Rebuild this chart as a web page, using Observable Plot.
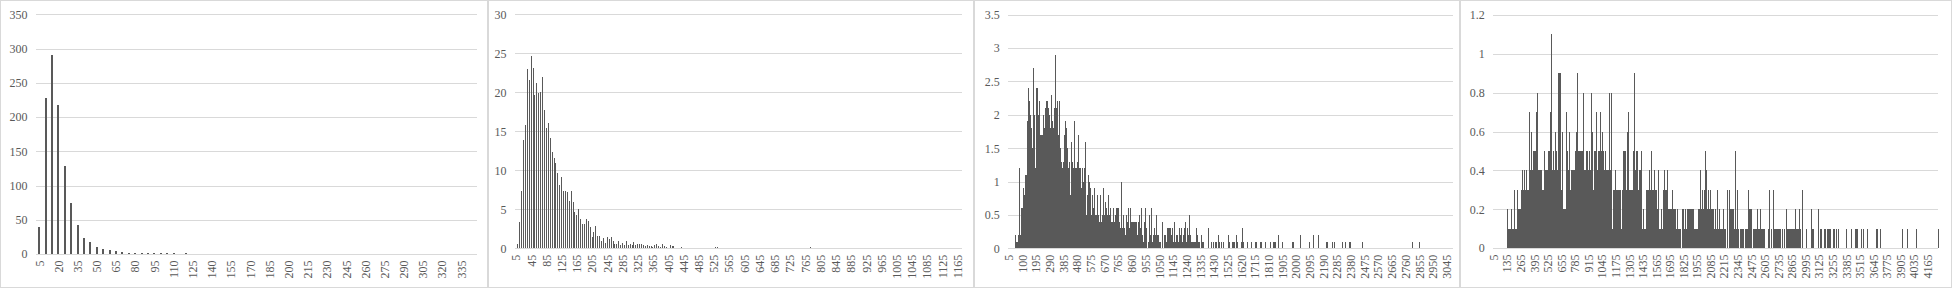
<!DOCTYPE html>
<html>
<head>
<meta charset="utf-8">
<script src="https://cdn.jsdelivr.net/npm/d3@7"></script>
<script src="https://cdn.jsdelivr.net/npm/@observablehq/plot@0.6"></script>
<style>
html,body{margin:0;padding:0;background:#fff;}
#wrap{position:relative;width:1952px;height:288px;overflow:hidden;background:#fff;}
.frame{position:absolute;top:0;height:288px;box-sizing:border-box;border:1px solid #d9d9d9;}
.chart{position:absolute;top:0;}
.chart svg{display:block;overflow:visible;}
</style>
</head>
<body>
<div id="wrap"></div>
<script>
// ---------- Data (bin categories start at 5 and step by 5) ----------
const values1 = [
  40,228,291,218,128,74,43,24,17,10,
  7,6,4,3,2,1,1,1,1,1,
  1,1,0,1,0,0,0,0,0,0,
  0,0,0,0,0,0,0,0,0,0,
  0,0,0,0,0,0,0,0,0,0,
  0,0,0,0,0,0,0,0,0,0,
  0,0,0,0,0,0,0,0,0
];
const values2 = [
  0,.5,3.4,7.3,13.9,15.8,23,21.6,24.7,23.1,
  19.7,21.2,19.9,20.1,21.9,17.7,15.4,16.1,14.2,12.3,
  11.6,11,9.7,8.1,9.1,7.3,7.3,7.2,6.1,7.4,
  6,4.6,4.3,5,3.7,3.1,3.1,3.7,3.5,2.7,
  1.5,2.1,2.9,1.6,1.6,1,1.3,.7,1.5,1.2,
  1.4,.9,.6,.5,1,.4,.7,.4,.9,.4,
  .6,.4,.8,.4,.5,.6,.6,.4,.3,.4,
  .3,.3,.2,.4,.6,.3,.2,.6,.3,.2,
  .1,.4,.3,.3,.1,.1,.1,.2,.1,.1,
  .1,.1,0,.1,.1,.1,.1,.1,0,0,
  0,.1,.1,.1,0,.15,.15,.1,0,0,
  .1,.1,0,.1,0,0,0,.1,0,.1,
  0,0,.1,.1,0,.1,0,.1,0,0,
  0,0,.1,0,0,0,.1,0,0,0,
  0,0,0,0,0,0,0,0,0,0,
  0,0,0,0,0,.15,0,0,0,0,
  0,.1,0,0,0,0,0,0,0,0,
  0,0,0,0,0,0,0,0,0,0,
  0,0,0,0,0,0,.1,0,0,0,
  0,0,0,0,0,0,0,0,0,0,
  0,0,0,0,0,0,0,0,0,0,
  0,0,0,0,0,0,0,0,0,0,
  0,0,0,0,0,0,0,0,0,0,
  0,0,0,0,0
];
const values3 = [
  0,0,0,0,0,0,0,0,0,0,
  .2,.1,.1,.2,.2,1.2,.2,.2,.6,.6,
  .9,.8,.8,1.1,1.1,1.1,1.9,2.4,1.5,2.2,
  2,1.9,1.8,1.5,2.7,2.5,2,1.2,2,2.4,
  2.4,2,1.7,2.2,1.7,1.3,1.7,1.7,1.9,2,
  1.8,2.1,2.2,1.7,2.2,2.1,1.4,2,1.8,1.7,
  2.3,1.9,1.8,2.1,1.7,2.9,2.1,2,2.2,1.7,
  1.9,2.2,1.5,1.3,1.3,1.2,1.3,1.7,1.2,1.9,
  1.8,1.5,1.3,1.2,1.3,1.2,.8,1.6,1,1.3,
  1.2,.7,1.9,1.2,1.2,.8,1.3,1.7,.6,1.2,
  1.2,.9,.6,1.2,1,1.2,1.6,.8,.5,.5,
  .8,1.1,1,.5,.9,.5,.8,.7,.6,.9,
  .4,.5,.5,.8,.5,.5,.4,.6,.8,.4,
  .5,.9,.6,.5,.4,.7,.6,.5,.8,.4,
  .5,.6,.5,.4,.4,.6,.4,.4,.5,.4,
  .6,.6,.4,.6,.4,.3,1,.4,.3,.5,
  .3,.3,.2,.5,.2,.4,.3,.6,.3,.6,
  .4,.2,.4,0,.4,.4,.4,.4,.2,.2,
  .4,.1,.5,.3,.2,.6,.2,.1,.4,.2,
  .6,.2,.3,0,.1,.2,.5,.2,.1,.6,
  .1,.2,.3,.1,.2,.5,.1,.2,.2,.1,
  .1,.1,0,0,.4,0,.2,.2,.2,.1,
  .3,.3,.3,.1,.3,.3,.2,.2,.3,.1,
  .4,.1,.1,.2,.2,.1,.1,.3,.2,.2,
  .3,.1,.1,.2,.3,.1,.4,.1,.3,.2,
  .2,.5,.2,.2,.1,.1,.1,0,.1,.1,
  .1,.3,.2,.1,.1,.1,0,0,.2,.1,
  .1,.1,0,0,0,0,0,.3,0,0,
  0,0,.1,0,.1,.1,0,.1,.1,.1,
  0,.1,.2,.1,0,.1,.1,0,.1,0,
  0,0,0,0,0,.2,.1,.1,0,0,
  0,.1,.1,0,.1,0,0,.2,.1,0,
  0,0,0,.1,.3,.1,.1,0,0,0,
  0,0,.1,0,0,0,0,.1,0,0,
  0,0,0,.1,.1,0,0,0,0,0,
  .1,.1,0,0,0,0,.1,0,0,0,
  0,0,0,.1,.1,0,0,0,.1,.1,
  0,.1,0,0,0,.2,0,0,0,0,
  .1,0,0,0,0,0,0,0,0,0,
  0,0,0,0,.1,0,.1,0,0,0,
  0,0,0,0,0,.2,0,0,0,0,
  0,0,0,0,0,0,0,.1,0,0,
  0,0,0,.2,0,0,0,0,0,0,
  .2,0,0,0,0,0,0,0,0,0,
  0,.1,0,.1,0,0,0,0,0,0,
  .1,0,.1,0,0,0,0,0,0,0,
  0,0,0,.1,0,0,0,.1,0,0,
  0,0,0,.1,0,.1,0,0,0,0,
  0,0,0,0,0,0,0,0,0,0,
  0,.1,0,0,0,0,0,0,0,0,
  0,0,0,0,0,0,0,0,0,0,
  0,0,0,0,0,0,0,0,0,0,
  0,0,0,0,0,0,0,0,0,0,
  0,0,0,0,0,0,0,0,0,0,
  0,0,0,0,0,0,0,0,0,0,
  0,0,0,0,0,0,0,0,0,0,
  .1,0,0,0,0,0,0,0,0,0,
  .1,0,0,0,0,0,0,0,0,0,
  0,0,0,0,0,0,0,0,0,0,
  0,0,0,0,0,0,0,0,0,0,
  0,0,0,0,0,0,0,0,0,0,
  0,0,0,0,0,0,0
];
const values4 = [
  0,0,0,0,0,0,0,0,0,0,
  0,0,0,0,0,0,0,0,0,0,
  0,0,0,0,0,0,0,.2,.1,.1,
  .1,.1,.1,.1,.2,.1,.1,.1,.1,.1,
  .1,.3,.1,.1,.1,.1,.3,.2,.2,.2,
  .2,.2,.2,.2,.3,.3,.4,.3,.3,.4,
  .3,.3,.3,.3,.4,.3,.3,.3,.7,.1,
  .1,.4,.4,.6,.4,.4,.1,.5,.5,.5,
  .5,.5,.5,.7,.8,.7,.4,.4,.4,.4,
  .4,.4,.4,.3,.3,.3,.3,.3,.5,.4,
  .4,.4,.4,.4,.4,.4,.5,.4,.5,.7,
  .5,1.1,.2,.4,.5,.4,.4,.3,.6,.4,
  .5,.3,.3,.4,.6,.9,.9,.9,.9,.6,
  .3,.3,.6,.2,.2,.2,.2,.2,.2,.4,
  .7,.5,.4,.4,.3,.4,.6,.3,.2,.4,
  .3,.4,.4,.4,.4,.4,.4,0,.5,.6,
  .5,.9,.5,.5,.5,.5,.5,.5,.5,.5,
  .5,.4,.8,.4,.4,.3,.3,.4,.3,.5,
  .5,.5,.4,.5,.5,.4,.2,.3,.8,.6,
  .4,.2,.3,.5,.3,.5,.3,.7,.5,.2,
  .4,.5,.5,.3,.5,.7,.5,.5,.5,.6,
  .5,.5,.4,.4,.5,.5,.4,.4,.4,.4,
  .4,.4,.8,.4,.3,.4,.8,.1,.1,.3,
  .3,.1,.3,.4,.3,.3,.1,.1,.3,.3,
  .3,.3,.3,.3,.1,.1,.1,.3,.3,.4,
  .5,.5,.3,.5,.3,.3,.6,.5,.7,.6,
  .3,.2,.3,.3,.3,.3,.3,.3,.3,.5,
  .5,.9,.2,.4,.5,.5,.5,.3,.2,.2,
  .4,.4,.4,.4,.5,.1,.1,.2,.1,.1,
  .1,.1,.1,.3,.3,.3,.3,.3,.4,.3,
  .3,.3,.3,.5,.3,.3,.3,.3,.4,.3,
  .3,.3,.3,.3,.2,.2,.4,.1,.1,.1,
  .1,.2,.1,.1,.1,.3,.3,.3,.4,.3,
  .3,.3,.3,.3,.4,.2,.2,.2,0,.2,
  .2,.2,.2,.3,.2,.2,.2,.2,.2,.2,
  .1,.1,.2,.1,.1,.1,.1,.1,.1,.1,
  0,0,.2,.2,.2,.2,.1,.1,.2,.1,
  .1,.1,.2,.2,.2,.2,0,.2,.2,.2,
  .2,.2,.1,.1,.2,.1,.1,.1,.1,.1,
  .1,.1,.1,.2,.2,.2,.2,.4,.2,.2,
  .2,.3,.2,.2,.2,.3,.2,.5,.4,.2,
  .2,.2,.3,.2,.2,.2,.3,.2,.2,.2,
  .2,.2,.2,.1,.1,.1,.2,.1,.1,.3,
  .1,.1,.1,.2,.2,.1,.1,.1,.1,.1,
  .2,.1,.1,.1,.1,.1,0,0,0,.3,
  0,0,0,.3,0,.2,.2,.2,.2,.2,
  .2,.1,.1,.1,.5,.1,.1,.1,.3,.1,
  .1,0,0,0,.1,.1,.1,.1,.1,.1,
  0,0,.1,.1,.1,.1,.1,0,0,.3,
  0,.2,.2,.2,.2,.2,0,0,0,.1,
  .1,.1,.1,.1,.1,.1,.2,0,.1,.1,
  .1,0,.2,0,.1,.1,.1,.1,.1,.1,
  0,0,0,0,0,0,0,.1,0,.3,
  0,0,0,.1,0,0,0,.3,0,.1,
  .1,.1,.1,.1,.1,.1,.1,.1,.1,.1,
  .1,0,0,0,.1,0,0,0,.1,0,
  0,.2,0,.1,.1,.1,.1,.1,.1,.1,
  .1,.1,.1,.1,0,.1,.1,.1,.1,.2,
  .1,.1,.1,.1,.1,.1,.2,.1,.1,.1,
  0,0,.1,.3,0,0,0,0,0,0,
  .1,0,0,0,0,0,0,0,0,.1,
  .2,0,.1,.1,.1,0,0,0,0,0,
  0,0,0,.2,0,0,.1,.1,.1,.1,
  0,0,0,0,0,.1,.1,.1,0,0,
  0,.1,.1,.1,0,0,.1,0,0,0,
  0,.1,.1,.1,0,0,0,.1,0,0,
  0,.1,0,0,0,0,0,0,0,0,
  0,0,0,0,0,0,0,.1,0,0,
  0,0,0,0,0,0,0,.1,0,0,
  0,0,0,0,.1,.1,.1,.1,0,0,
  0,0,0,0,0,0,.1,0,0,0,
  .1,0,0,0,0,0,.1,0,0,0,
  0,0,0,0,0,0,0,0,0,0,
  0,0,0,0,.1,.1,.1,0,0,0,
  0,0,.1,0,0,0,0,0,0,0,
  0,0,0,0,0,0,0,0,0,0,
  0,0,0,0,0,0,0,0,0,0,
  0,0,0,0,0,0,0,0,0,0,
  0,0,0,.1,0,0,0,0,0,0,
  0,0,0,0,.1,0,0,0,0,0,
  0,0,0,0,0,0,0,0,0,0,
  .1,0,0,0,0,0,0,0,0,0,
  0,0,0,0,0,0,0,0,0,0,
  0,0,0,0,0,0,0,0,0,0,
  0,0,0,0,0,0,0,0,0,0,
  0,0,.1
];

// ---------- Tick labels ----------
const yTicks1 = [0,50,100,150,200,250,300,350];
const yTicks2 = [0,5,10,15,20,25,30];
const yTicks3 = [0,0.5,1,1.5,2,2.5,3,3.5];
const yTicks4 = [0,0.2,0.4,0.6,0.8,1,1.2];
const xTicks1 = [5,20,35,50,65,80,95,110,125,140,155,170,185,200,215,230,245,260,275,290,305,320,335];
const xTicks2 = [5,45,85,125,165,205,245,285,325,365,405,445,485,525,565,605,645,685,725,765,805,845,885,925,965,1005,1045,1085,1125,1165];
const xTicks3 = [5,100,195,290,385,480,575,670,765,860,955,1050,1145,1240,1335,1430,1525,1620,1715,1810,1905,2000,2095,2190,2285,2380,2475,2570,2665,2760,2855,2950,3045];
const xTicks4 = [5,135,265,395,525,655,785,915,1045,1175,1305,1435,1565,1695,1825,1955,2085,2215,2345,2475,2605,2735,2865,2995,3125,3255,3385,3515,3645,3775,3905,4035,4165];

// ---------- Layout ----------
const FONT = "'Liberation Serif','Times New Roman',Times,serif";
const panels = [
  {L: 0,    W: 488, mL: 36,   mR: 10.7, mT: 14.3, base: 254,   yMax: 350, yTicks: yTicks1, xTicks: xTicks1, values: values1, barW: 2},
  {L: 488,  W: 486, mL: 27,   mR: 11.7, mT: 14.3, base: 248.3, yMax: 30,  yTicks: yTicks2, xTicks: xTicks2, values: values2, barW: 1},
  {L: 974,  W: 486, mL: 34.3, mR: 7.3,  mT: 14.7, base: 248.3, yMax: 3.5, yTicks: yTicks3, xTicks: xTicks3, values: values3, barW: 1},
  {L: 1460, W: 492, mL: 33.3, mR: 13.7, mT: 15,   base: 248,   yMax: 1.2, yTicks: yTicks4, xTicks: xTicks4, values: values4, barW: 1}
];

const wrap = document.getElementById("wrap");
for (const p of panels) {
  const n = p.values.length;
  const cats = p.values.map((_, i) => 5 + 5 * i);
  const data = p.values.map((v, i) => ({c: cats[i], v})).filter(d => d.v > 0);
  const bw = (p.W - p.mL - p.mR) / n;
  const inset = (bw - p.barW) / 2;   // negative when a bin is narrower than one pixel

  const frame = document.createElement("div");
  frame.className = "frame";
  frame.style.left = p.L + "px";
  frame.style.width = p.W + "px";
  wrap.appendChild(frame);

  const svg = Plot.plot({
    width: p.W,
    height: 288,
    marginLeft: p.mL,
    marginRight: p.mR,
    marginTop: p.mT,
    marginBottom: 288 - p.base,
    style: {fontFamily: FONT, fontSize: "12px", background: "transparent", color: "#595959"},
    x: {type: "band", domain: cats, padding: 0, round: false, label: null},
    y: {domain: [0, p.yMax], label: null},
    marks: [
      Plot.gridY(p.yTicks, {stroke: "#d9d9d9", strokeOpacity: 1, strokeWidth: 1, shapeRendering: "crispEdges"}),
      Plot.barY(data, {x: "c", y: "v", fill: "#595959", insetLeft: inset, insetRight: inset, shapeRendering: "crispEdges"}),
      Plot.axisY(p.yTicks, {tickSize: 0, tickPadding: 9, fill: "#595959", tickFormat: d => String(d)}),
      Plot.axisX(p.xTicks, {tickSize: 0, tickPadding: 6, tickRotate: -90, fill: "#595959", tickFormat: d => String(d)})
    ]
  });
  const holder = document.createElement("div");
  holder.className = "chart";
  holder.style.left = p.L + "px";
  holder.appendChild(svg);
  wrap.appendChild(holder);
}
</script>
</body>
</html>
